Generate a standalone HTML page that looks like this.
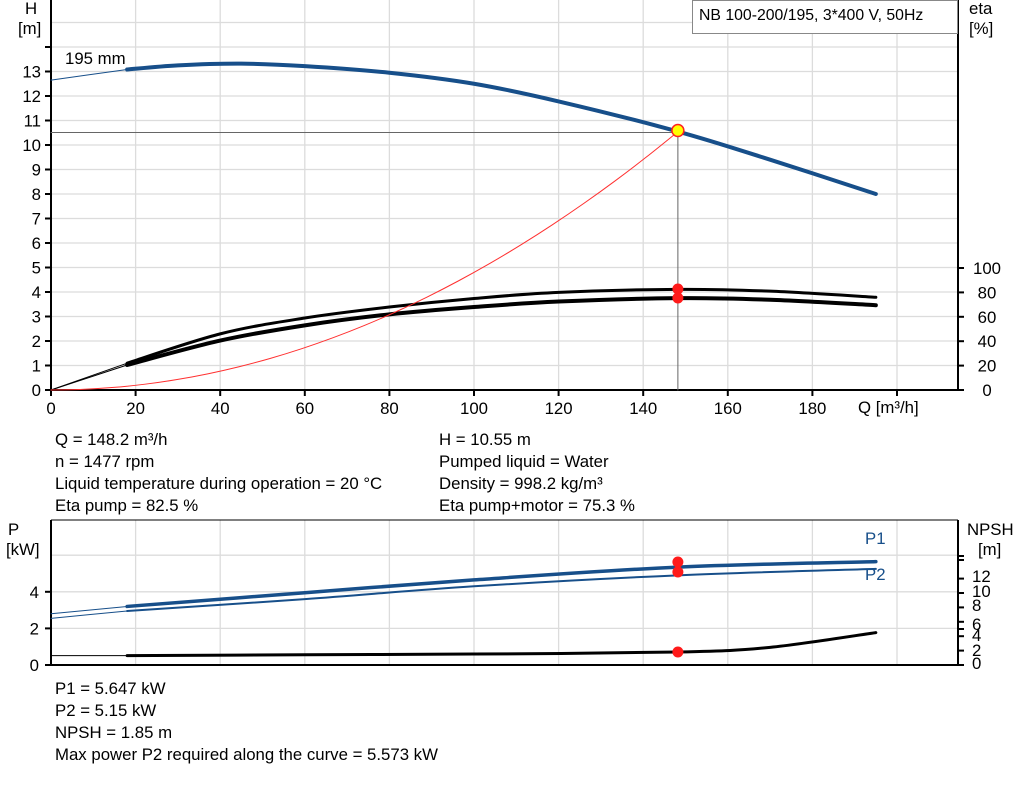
<!DOCTYPE html>
<html><head><meta charset="utf-8"><style>
body{margin:0;background:#fff;width:1024px;height:781px;overflow:hidden;font-family:"Liberation Sans",sans-serif}
svg text{font-family:"Liberation Sans",sans-serif;font-size:16.8px;fill:#000}
</style></head><body>
<svg id="s" width="1024" height="781" xmlns="http://www.w3.org/2000/svg">
<g id="grid" stroke="#dcdcdc" stroke-width="1.3"></g>
<g id="ax"></g>
<g id="cv" fill="none" stroke-linecap="round"></g>
<rect x="692.5" y="0.5" width="265" height="33" fill="#fff" stroke="#888"/>
<text x="699" y="20" style="font-size:15.8px">NB 100-200/195, 3*400 V, 50Hz</text>
<text x="25" y="14">H</text><text x="18" y="34">[m]</text>
<text x="969" y="14">eta</text><text x="969" y="34">[%]</text>
<text x="65" y="64">195 mm</text>
<text x="858" y="413">Q [m³/h]</text>
<text x="8" y="535">P</text><text x="6" y="555">[kW]</text>
<text x="967" y="535">NPSH</text><text x="978" y="555">[m]</text>
<text x="865" y="544" style="fill:#174f8a">P1</text>
<text x="865" y="580" style="fill:#174f8a">P2</text>
<text x="55" y="445">Q = 148.2 m³/h</text>
<text x="55" y="467">n = 1477 rpm</text>
<text x="55" y="489">Liquid temperature during operation = 20 °C</text>
<text x="55" y="511">Eta pump = 82.5 %</text>
<text x="439" y="445">H = 10.55 m</text>
<text x="439" y="467">Pumped liquid = Water</text>
<text x="439" y="489">Density = 998.2 kg/m³</text>
<text x="439" y="511">Eta pump+motor = 75.3 %</text>
<text x="55" y="694">P1 = 5.647 kW</text>
<text x="55" y="716">P2 = 5.15 kW</text>
<text x="55" y="738">NPSH = 1.85 m</text>
<text x="55" y="760">Max power P2 required along the curve = 5.573 kW</text>
</svg>
<script>
const NS="http://www.w3.org/2000/svg";
function el(p,t,a,txt){const e=document.createElementNS(NS,t);for(const k in a)e.setAttribute(k,a[k]);if(txt!==undefined)e.textContent=txt;document.getElementById(p).appendChild(e);return e;}
const X=q=>51+q*4.23, L=51,R=958;
for(let q=20;q<=200;q+=20)el('grid','line',{x1:X(q),x2:X(q),y1:0,y2:390});
const HY=h=>390-h*24.5;
for(let h=1;h<=15;h++)el('grid','line',{x1:L,x2:R,y1:HY(h),y2:HY(h)});
const BT=520,BB=665;
for(let q=20;q<=200;q+=20)el('grid','line',{x1:X(q),x2:X(q),y1:BT,y2:BB});
const PY=p=>665-p*18.3;
[2,4,6].forEach(p=>el('grid','line',{x1:L,x2:R,y1:PY(p),y2:PY(p)}));
const A={stroke:'#000','stroke-width':2};
el('ax','line',Object.assign({x1:L,x2:L,y1:0,y2:390},A));
el('ax','line',Object.assign({x1:L,x2:R,y1:390,y2:390},A));
el('ax','line',Object.assign({x1:R,x2:R,y1:0,y2:390},A));
el('ax','line',Object.assign({x1:L,x2:L,y1:BT,y2:BB},A));
el('ax','line',Object.assign({x1:L,x2:R,y1:BB,y2:BB},A));
el('ax','line',Object.assign({x1:R,x2:R,y1:BT,y2:BB},A));
el('ax','line',Object.assign({x1:L,x2:R,y1:BT,y2:BT},{stroke:'#000','stroke-width':1}));
for(let h=0;h<=14;h++){el('ax','line',{x1:L-6,x2:L,y1:HY(h),y2:HY(h),stroke:'#000','stroke-width':2});if(h<=13)el('ax','text',{x:L-10,y:HY(h)+6,'text-anchor':'end'},h);}
for(let q=0;q<=200;q+=20){el('ax','line',{x1:X(q),x2:X(q),y1:390,y2:396,stroke:'#000','stroke-width':2});if(q<=180)el('ax','text',{x:X(q),y:414,'text-anchor':'middle'},q);}
const EY=e=>390-e*1.22;
for(let e=0;e<=100;e+=20){el('ax','line',{x1:R,x2:R+6,y1:EY(e),y2:EY(e),stroke:'#000','stroke-width':2});el('ax','text',{x:987,y:EY(e)+6,'text-anchor':'middle'},e);}
[0,2,4].forEach(p=>{el('ax','line',{x1:L-6,x2:L,y1:PY(p),y2:PY(p),stroke:'#000','stroke-width':2});el('ax','text',{x:L-12,y:PY(p)+6,'text-anchor':'end'},p);});
const NY=n=>665-n*7.2;
[0,2,4,5,6,8,10,12].forEach(n=>el('ax','line',{x1:R,x2:R+6,y1:NY(n),y2:NY(n),stroke:'#000','stroke-width':2}));
[556,560].forEach(y=>el('ax','line',{x1:R,x2:R+6,y1:y,y2:y,stroke:'#000','stroke-width':2}));
[[0,669],[2,656],[4,641],[6,630],[8,611],[10,597],[12,582]].forEach(([n,y])=>el('ax','text',{x:R+14,y:y},n));
function path(pts,fx,fy){const P=pts.map(p=>[fx(p[0]),fy(p[1])]);
 let d='M'+P[0][0]+','+P[0][1];
 for(let i=0;i<P.length-1;i++){const p0=P[i-1]||P[i],p1=P[i],p2=P[i+1],p3=P[i+2]||P[i+1];
  d+=` C${p1[0]+(p2[0]-p0[0])/6},${p1[1]+(p2[1]-p0[1])/6} ${p2[0]-(p3[0]-p1[0])/6},${p2[1]-(p3[1]-p1[1])/6} ${p2[0]},${p2[1]}`;}
 return d;}
const blue='#174f8a';
function curve(pts,fy,col,wThin,wThick){
 const thin=pts.filter(p=>p[0]<=18), thick=pts.filter(p=>p[0]>=18);
 el('cv','path',{d:path(thin,X,fy),stroke:col,'stroke-width':wThin});
 el('cv','path',{d:path(thick,X,fy),stroke:col,'stroke-width':wThick});}
curve([[0,12.65],[18,13.08],[30,13.25],[45,13.32],[60,13.22],[80,12.95],[100,12.5],[120,11.78],[148.2,10.55],[170,9.4],[195,8.0]],HY,blue,1,4);
curve([[0,0],[18,22],[40,46],[60,59],[80,68],[100,75],[120,80],[148.2,82.5],[170,81],[195,76]],EY,'#000',1,3);
curve([[0,0],[18,20.5],[40,40.5],[60,53],[80,62],[100,68],[120,72.5],[148.2,75.3],[170,74],[195,69.5]],EY,'#000',1,4);
let sc=[];for(let q=0;q<=148.2;q+=7.41)sc.push([q,0.00048*q*q]);
el('cv','path',{d:path(sc,X,HY),stroke:'#ff3030','stroke-width':1});
curve([[0,2.8],[18,3.2],[60,3.95],[100,4.65],[148.2,5.35],[195,5.65]],PY,blue,1,3.5);
curve([[0,2.55],[18,2.95],[60,3.6],[100,4.3],[148.2,4.9],[195,5.25]],PY,blue,1,2);
curve([[0,1.3],[18,1.3],[60,1.42],[100,1.52],[148.2,1.8],[170,2.45],[195,4.5]],NY,'#000',1,3);
el('cv','line',{x1:L,x2:X(148.2),y1:HY(10.55)+1,y2:HY(10.55)+1,stroke:'#666','stroke-width':1});
el('cv','line',{x1:X(148.2),x2:X(148.2),y1:HY(10.55),y2:390,stroke:'#666','stroke-width':1});
el('cv','circle',{cx:X(148.2),cy:HY(10.55)-1,r:6,fill:'#ffff00',stroke:'#ff2020','stroke-width':1.5});
[289,298,562,572,652].forEach(y=>el('cv','circle',{cx:X(148.2),cy:y,r:5.5,fill:'#ff1a1a',stroke:'none'}));
</script>
</body></html>
